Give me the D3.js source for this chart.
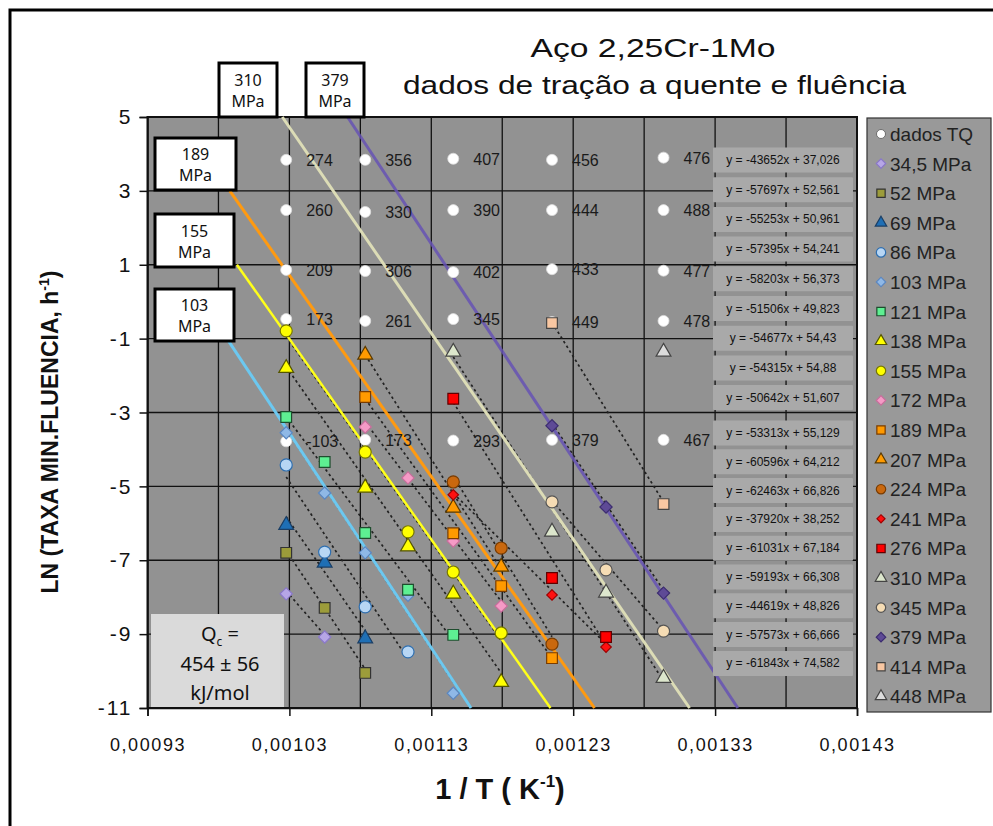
<!DOCTYPE html>
<html lang="pt">
<head>
<meta charset="utf-8">
<title>Aço 2,25Cr-1Mo</title>
<script src="https://d3js.org/d3.v7.min.js"></script>
<style>
  body { margin: 0; background: #fff; font-family: Arial, "Liberation Sans", sans-serif; }
  svg { display: block; }
  .grid line { stroke: #111; stroke-width: 1.3; }
  .tq-label { font-size: 16px; fill: #1a1a1a; }
  .eq text { font-size: 12px; fill: #111; }
  .legend text { font-size: 19px; fill: #222; }
</style>
</head>
<body>
<script>
// ---- dados ----
// x = 1 / T(K); temperaturas de ensaio em graus C
var tqTemps  = [700, 700, 700, 700, 700, 650, 650, 650, 650, 650, 600, 600, 600, 600, 600,
                550, 550, 550, 550, 550, 500, 500, 500, 500, 500];
var tqLn     = [3.84, 2.48, 0.86, -0.47, -3.78, 3.84, 2.43, 0.83, -0.52, -3.74, 3.87, 2.48, 0.80, -0.47, -3.76,
                3.84, 2.48, 0.88, -0.55, -3.74, 3.90, 2.48, 0.84, -0.52, -3.74];
var tqLabels = ["274", "260", "209", "173", "-103", "356", "330", "306", "261", "173",
                "407", "390", "402", "345", "293", "456", "444", "433", "449", "379",
                "476", "488", "477", "478", "467"];

var stresses = ["34,5", "52", "69", "86", "103", "121", "138", "155", "172", "189",
                "207", "224", "241", "276", "310", "345", "379", "414", "448"];
// pontos de cada serie: [temperatura C, ln(taxa minima de fluencia)]
var creepPoints = [
  [[700, -7.91], [675, -9.08]],
  [[700, -6.80], [675, -8.29], [650, -10.05]],
  [[700, -6.05], [675, -7.07], [650, -9.12]],
  [[700, -4.42], [675, -6.78], [650, -8.26], [625, -9.48]],
  [[700, -3.55], [675, -5.18], [650, -6.80], [625, -7.95], [600, -10.60]],
  [[700, -3.12], [675, -4.34], [650, -6.26], [625, -7.80], [600, -9.02]],
  [[700, -1.80], [650, -5.04], [625, -6.63], [600, -7.91], [575, -10.30]],
  [[700, -0.79], [650, -4.07], [625, -6.23], [600, -7.32], [575, -8.97]],
  [[650, -3.39], [625, -4.77], [600, -6.48], [575, -8.24]],
  [[650, -2.58], [600, -6.27], [575, -7.70], [550, -9.65]],
  [[650, -1.44], [600, -5.58], [575, -7.18]],
  [[600, -4.88], [575, -6.67], [550, -9.27]],
  [[600, -5.23], [550, -7.94], [525, -9.35]],
  [[600, -2.63], [550, -7.48], [525, -9.08]],
  [[600, -1.36], [550, -6.23], [525, -7.88], [500, -10.19]],
  [[550, -5.42], [525, -7.26], [500, -8.92]],
  [[550, -3.36], [525, -5.56], [500, -7.89]],
  [[550, -0.58], [500, -5.48]],
  [[500, -1.36]]
];
// linhas de tendencia (Excel), na ordem das series
var trendSlope     = [-43652, -57697, -55253, -57395, -58203, -51506, -54677, -54315, -50642,
                      -53313, -60596, -62463, -37920, -61031, -59193, -44619, -57573, -61843];
var trendIntercept = [37.026, 52.561, 50.961, 54.241, 56.373, 49.823, 54.43, 54.88, 51.607,
                      55.129, 64.212, 66.826, 38.252, 67.184, 66.308, 48.826, 66.666, 74.582];

// retas com Qc comum (inicio e fim, em 1/T e ln)
var guideStress = ["103", "155", "189", "310", "379"];
var guideStart  = [[0.000986, -1], [0.000993, 1], [0.000988, 3], [0.001025, 5], [0.001071, 5]];
var guideEnd    = [[0.001158, -11], [0.001214, -11], [0.001245, -11], [0.001312, -11], [0.001346, -11]];

var xTicks = [0.00093, 0.00103, 0.00113, 0.00123, 0.00133, 0.00143];
var xGrid  = [0.00098, 0.00103, 0.00108, 0.00113, 0.00118, 0.00123, 0.00128, 0.00133, 0.00138];
var yTicks = [5, 3, 1, -1, -3, -5, -7, -9, -11];

// ---- estilo dos marcadores ----
var markerShape = ["diamond", "square", "triangle", "circle", "diamond", "square", "triangle", "circle", "diamond", "square",
                   "triangle", "circle", "diamond", "square", "triangle", "circle", "diamond", "square", "triangle"];
var markerFill  = ["#b6a6e6", "#9c9c3a", "#1f6fb5", "#b7d6f4", "#8fb8e6", "#5ef092", "#ffff00", "#ffff00", "#f59ac6", "#ff9a00",
                   "#ff9a00", "#c9680e", "#ff1010", "#ff0000", "#dce6cc", "#f5dcb4", "#5e4a96", "#f9c7a2", "#dcdcdc"];
var markerStroke = ["#8a78c8", "#333", "#1b3f66", "#2f6fb0", "#5a86c0", "#1e4d2e", "#555500", "#777700", "#c86e9c", "#7a3c00",
                    "#5a3a00", "#7a3c00", "#a00000", "#600000", "#444", "#555", "#3c2c70", "#444", "#444"];
var guideColor = {"103": "#6cc8f0", "155": "#ffff1a", "189": "#ff9a10", "310": "#dcdcb6", "379": "#6652b4"};

var width = 993, height = 826;
var svg = d3.select("body").append("svg").attr("width", width).attr("height", height);

var x = d3.scaleLinear().domain([0.00093, 0.00143]).range([147.5, 857]);
var y = d3.scaleLinear().domain([-11, 5]).range([708, 117]);
var invT = function (t) { return 1 / (t + 273); };

var pt = d3.formatLocale({decimal: ",", thousands: ".", grouping: [3], currency: ["", ""], minus: "-"});

// moldura externa
svg.append("path").attr("d", "M10,826 L10,10 L993,10")
   .attr("fill", "none").attr("stroke", "#000").attr("stroke-width", 3);

// titulo
svg.append("text").attr("x", 653).attr("y", 57).attr("text-anchor", "middle")
   .attr("font-family", "'Liberation Sans Narrow', 'Arial Narrow', Arial, sans-serif")
   .attr("font-size", 26).attr("textLength", 245).attr("lengthAdjust", "spacingAndGlyphs")
   .attr("fill", "#111").text("Aço 2,25Cr-1Mo");
svg.append("text").attr("x", 403).attr("y", 94)
   .attr("font-family", "'Liberation Sans Narrow', 'Arial Narrow', Arial, sans-serif")
   .attr("font-size", 26).attr("textLength", 503).attr("lengthAdjust", "spacingAndGlyphs")
   .attr("fill", "#111").text("dados de tração a quente e fluência");

// area do grafico
svg.append("rect").attr("x", x(0.00093)).attr("y", y(5))
   .attr("width", x(0.00143) - x(0.00093)).attr("height", y(-11) - y(5))
   .attr("fill", "#929292");

var grid = svg.append("g").attr("class", "grid");
grid.selectAll(".v").data(xGrid).enter().append("line")
    .attr("x1", d => x(d)).attr("x2", d => x(d)).attr("y1", y(5)).attr("y2", y(-11));
grid.selectAll(".h").data(yTicks.slice(1, -1)).enter().append("line")
    .attr("x1", x(0.00093)).attr("x2", x(0.00143)).attr("y1", d => y(d)).attr("y2", d => y(d));

svg.append("rect").attr("x", x(0.00093)).attr("y", y(5))
   .attr("width", x(0.00143) - x(0.00093)).attr("height", y(-11) - y(5))
   .attr("fill", "none").attr("stroke", "#111").attr("stroke-width", 2);

// eixos
var yAxis = svg.append("g").attr("transform", "translate(" + x(0.00093) + ",0)")
   .call(d3.axisLeft(y).tickValues(yTicks).tickSize(8).tickFormat(pt.format("d")));
yAxis.selectAll("text").attr("font-size", 21).attr("letter-spacing", 2).attr("fill", "#111")
     .attr("font-family", "Arial, 'Liberation Sans', sans-serif").attr("dx", -4);
var xAxis = svg.append("g").attr("transform", "translate(0," + y(-11) + ")")
   .call(d3.axisBottom(x).tickValues(xTicks).tickSize(8).tickFormat(pt.format(".5f")));
xAxis.selectAll("text").attr("font-size", 18).attr("letter-spacing", 1.6).attr("fill", "#111")
     .attr("font-family", "Arial, 'Liberation Sans', sans-serif").attr("dy", "1.75em");
svg.selectAll(".domain, .tick line").attr("stroke", "#111").attr("stroke-width", 1.5);

// titulos dos eixos
var yl = svg.append("text").attr("transform", "translate(58,432) rotate(-90)")
   .attr("text-anchor", "middle").attr("font-size", 23).attr("font-weight", "bold").attr("fill", "#111")
   .text("LN (TAXA MIN.FLUENCIA, h");
yl.append("tspan").attr("font-size", 14).attr("dy", -9).text("-1");
yl.append("tspan").attr("dy", 9).text(")");
var xl = svg.append("text").attr("x", 500).attr("y", 799).attr("text-anchor", "middle")
   .attr("font-size", 29).attr("font-weight", "bold").attr("fill", "#111").text("1 / T ( K");
xl.append("tspan").attr("font-size", 17).attr("dy", -12).text("-1");
xl.append("tspan").attr("dy", 12).text(")");

// linhas de tendencia (pontilhadas)
var trends = svg.append("g");
trendSlope.forEach(function (m, i) {
  var xs = creepPoints[i].map(p => invT(p[0]));
  var x0 = d3.min(xs), x1 = d3.max(xs);
  trends.append("line")
    .attr("x1", x(x0)).attr("y1", y(m * x0 + trendIntercept[i]))
    .attr("x2", x(x1)).attr("y2", y(m * x1 + trendIntercept[i]))
    .attr("stroke", "#222").attr("stroke-width", 1.7).attr("stroke-dasharray", "2.5,3");
});

// retas Qc
guideStress.forEach(function (s, i) {
  svg.append("line")
    .attr("x1", x(guideStart[i][0])).attr("y1", y(guideStart[i][1]))
    .attr("x2", x(guideEnd[i][0])).attr("y2", y(guideEnd[i][1]))
    .attr("stroke", guideColor[s]).attr("stroke-width", s === "155" ? 2.5 : 3)
    .attr("stroke-opacity", s === "379" ? 0.85 : 1);
});

// dados TQ
svg.append("g").selectAll("circle").data(tqTemps).enter().append("circle")
   .attr("cx", d => x(invT(d))).attr("cy", (d, i) => y(tqLn[i])).attr("r", 5.5)
   .attr("fill", "#fff").attr("stroke", "#ddd").attr("stroke-width", 0.8);
svg.append("g").selectAll("text").data(tqTemps).enter().append("text")
   .attr("class", "tq-label")
   .attr("x", d => x(invT(d)) + 20).attr("y", (d, i) => y(tqLn[i]) + 6)
   .text((d, i) => tqLabels[i]);

// marcadores
function symbolPath(shape, size) {
  var t = {circle: d3.symbolCircle, square: d3.symbolSquare, triangle: d3.symbolTriangle, diamond: d3.symbolSquare}[shape];
  return d3.symbol().type(t).size(size)();
}
function drawMarker(g, i, cx, cy, scale) {
  var shape = markerShape[i];
  var size = (shape === "diamond" ? 75 : shape === "triangle" ? 95 : 115) * scale;
  if (stresses[i] === "241") size = 55 * scale;
  g.append("path").attr("d", symbolPath(shape, size))
   .attr("transform", "translate(" + cx + "," + cy + ")" + (shape === "diamond" ? " rotate(45)" : ""))
   .attr("fill", markerFill[i]).attr("stroke", markerStroke[i]).attr("stroke-width", 1.2);
}
var marks = svg.append("g");
creepPoints.forEach(function (pts, i) {
  pts.forEach(function (p) { drawMarker(marks, i, x(invT(p[0])), y(p[1]), 1); });
});

// rotulos das equacoes
var eq = svg.append("g").attr("class", "eq");
trendSlope.forEach(function (m, i) {
  var cy = i < 9 ? 160 + i * 29.7 : 433 + (i - 9) * 28.8;
  eq.append("rect").attr("x", 713).attr("y", cy - 12.5).attr("width", 140).attr("height", 25)
    .attr("fill", "#a9a9a9").attr("rx", 1);
  eq.append("text").attr("x", 783).attr("y", cy + 4).attr("text-anchor", "middle")
    .text("y = " + pt.format("d")(m) + "x + " + pt.format("")(trendIntercept[i]));
});

// legenda
var lg = svg.append("g").attr("class", "legend");
lg.append("rect").attr("x", 867).attr("y", 118).attr("width", 124).attr("height", 594)
  .attr("fill", "#999").attr("stroke", "#333").attr("stroke-width", 1.2);
var legendNames = ["dados TQ"].concat(stresses.map(s => s + " MPa"));
legendNames.forEach(function (name, k) {
  var cy = 134 + k * 29.6;
  if (k === 0) {
    lg.append("circle").attr("cx", 881).attr("cy", cy).attr("r", 4.5)
      .attr("fill", "#fff").attr("stroke", "#555").attr("stroke-width", 0.8);
  } else {
    drawMarker(lg, k - 1, 881, cy, 0.6);
  }
  lg.append("text").attr("x", 890).attr("y", cy + 7).text(name);
});

// caixas de tensao
function stressBox(bx, by, bw, bh, label) {
  var g = svg.append("g");
  g.append("rect").attr("x", bx).attr("y", by).attr("width", bw).attr("height", bh)
   .attr("fill", "#fff").attr("stroke", "#000").attr("stroke-width", 3);
  var t = g.append("text").attr("text-anchor", "middle").attr("font-size", 16)
   .attr("font-family", "'Noto Sans', 'Open Sans', sans-serif").attr("fill", "#111");
  t.append("tspan").attr("x", bx + bw / 2).attr("y", by + bh / 2 - 4).text(label);
  t.append("tspan").attr("x", bx + bw / 2).attr("y", by + bh / 2 + 17).text("MPa");
}
stressBox(219, 63, 58, 54, "310");
stressBox(306, 63, 58, 54, "379");
stressBox(155, 138, 81, 52, "189");
stressBox(155, 214, 79, 53, "155");
stressBox(155, 289, 79, 52, "103");

// caixa Qc
var q = svg.append("g");
q.append("rect").attr("x", 151).attr("y", 614).attr("width", 133).attr("height", 93).attr("fill", "#dadada");
var qt = q.append("text").attr("text-anchor", "middle").attr("font-size", 20)
   .attr("font-family", "'Noto Sans', 'Open Sans', sans-serif").attr("fill", "#111");
var l1 = qt.append("tspan").attr("x", 220).attr("y", 641).text("Q");
l1.append("tspan").attr("font-size", 12).attr("dy", 5).text("c");
l1.append("tspan").attr("dy", -5).text(" =");
qt.append("tspan").attr("x", 220).attr("y", 671).text("454 ± 56");
qt.append("tspan").attr("x", 220).attr("y", 700).text("kJ/mol");
</script>
</body>
</html>
